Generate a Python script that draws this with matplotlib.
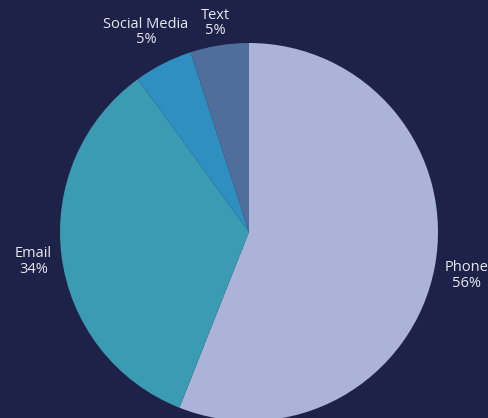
import matplotlib.pyplot as plt
import numpy as np

labels = ['Phone', 'Email', 'Social Media', 'Text']
values = [56, 34, 5, 5]
colors = ['#abb3d9', '#3a9bb2', '#2e8fc0', '#4f6e9c']
label_dist = [1.17, 1.15, 1.2, 1.13]

bg = '#1e2248'
fig = plt.figure(figsize=(4.89, 4.18), dpi=100, facecolor=bg)
ax = fig.add_axes([0, 0, 1, 1])
ax.set_facecolor(bg)

cx, cy, r = 249, 186, 189
wedges, _ = ax.pie(values, colors=colors, startangle=90, counterclock=False,
                   center=(cx, cy), radius=r, frame=True,
                   wedgeprops=dict(linewidth=0))
ax.set_xlim(0, 489)
ax.set_ylim(0, 418)
ax.axis('off')

for w, lab, v, d in zip(wedges, labels, values, label_dist):
    ang = np.deg2rad((w.theta1 + w.theta2) / 2)
    x = cx + r * d * np.cos(ang)
    y = cy + r * d * np.sin(ang) - 2
    ax.text(x, y, f'{lab}\n{v}%', ha='center', va='center', color='#e6e8f0',
            fontsize=10.5, family=['Open Sans', 'DejaVu Sans'], linespacing=1.05)

fig.savefig('out.png', dpi=100, facecolor=bg)
